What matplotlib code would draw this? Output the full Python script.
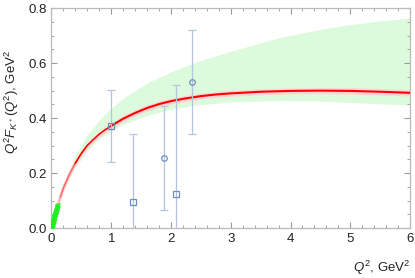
import numpy as np
import matplotlib.pyplot as plt

plt.rcParams['font.family'] = ['Liberation Sans', 'DejaVu Sans']
plt.rcParams['mathtext.fontset'] = 'custom'
plt.rcParams['mathtext.rm'] = 'Liberation Sans'
plt.rcParams['mathtext.it'] = 'Liberation Sans:italic'

# model curve (red) and its narrow error band
q2 = [0.0, 0.05, 0.1, 0.15, 0.2, 0.3, 0.4, 0.5, 0.6, 0.7, 0.8, 0.9, 1.0, 1.2, 1.4,
      1.6, 1.8, 2.0, 2.25, 2.5, 2.75, 3.0, 3.5, 4.0, 4.5, 5.0, 5.5, 6.0]
ff = [0.0, 0.043, 0.082, 0.114, 0.146, 0.196, 0.237, 0.272, 0.301, 0.322, 0.342, 0.358,
      0.372, 0.398, 0.419, 0.437, 0.451, 0.462, 0.472, 0.480, 0.486, 0.490, 0.496,
      0.499, 0.500, 0.499, 0.496, 0.492]
ff_err = [0.0, 0.008, 0.01, 0.011, 0.011, 0.011, 0.011, 0.011, 0.011, 0.011, 0.011, 0.011,
          0.011, 0.011, 0.011, 0.011, 0.011, 0.011, 0.011, 0.011, 0.011, 0.011, 0.011,
          0.011, 0.011, 0.012, 0.012, 0.012]

# wide green band
band_q2 = [0.0, 0.1, 0.2, 0.4, 0.6, 0.8, 1.0, 1.25, 1.65, 2.0, 2.4, 3.0, 3.82, 4.5, 5.0, 5.5, 6.0]
band_hi = [0.0, 0.088, 0.16, 0.262, 0.34, 0.392, 0.437, 0.48, 0.533, 0.568, 0.603, 0.643,
           0.693, 0.722, 0.740, 0.753, 0.764]
band_lo = [0.0, 0.078, 0.138, 0.222, 0.282, 0.325, 0.355, 0.382, 0.413, 0.432, 0.447, 0.459,
           0.464, 0.462, 0.457, 0.452, 0.448]

# experimental points
sq_q2 = [1.0, 1.36, 2.08]
sq_f = [0.373, 0.096, 0.126]
sq_err = [0.131, 0.246, 0.393]
ci_q2 = [1.89, 2.35]
ci_f = [0.255, 0.531]
ci_err = [0.188, 0.188]

# lattice points near origin
gq = [0.005, 0.01, 0.012, 0.018, 0.02, 0.025, 0.028, 0.03, 0.035, 0.038, 0.04, 0.045, 0.048,
      0.05, 0.055, 0.058, 0.06, 0.065, 0.07, 0.072, 0.075, 0.08, 0.085, 0.09, 0.095, 0.1, 0.103]
gf = [0.003, 0.008, 0.015, 0.012, 0.02, 0.022, 0.03, 0.026, 0.033, 0.028, 0.04, 0.038, 0.045,
      0.042, 0.05, 0.047, 0.055, 0.052, 0.06, 0.064, 0.058, 0.068, 0.07, 0.075, 0.078, 0.082, 0.086]

fig = plt.figure(figsize=(4.15, 2.78), dpi=100)
ax = fig.add_axes([0.124, 0.179, 0.864, 0.792])

ax.fill_between(band_q2, band_lo, band_hi, color='#dcfadc', lw=0, zorder=1)
q = np.array(q2)
f = np.array(ff)
e = np.array(ff_err)
ax.fill_between(q, f - e, f + e, color='#ffd4d4', lw=0, zorder=2)
# the curve fades out towards the origin
ax.plot(q2[1:7], ff[1:7], color='#ffb8b8', lw=1.8, zorder=3)
ax.plot(q2[3:9], ff[3:9], color='#ff6060', lw=0.9, zorder=4)
ax.plot(q2[6:13], ff[6:13], color='red', lw=1.1, zorder=4)
ax.plot(q2[12:], ff[12:], color='red', lw=1.5, zorder=4)

ecol = '#b4c4de'
mcol = '#6d8ec6'
ax.errorbar(sq_q2, sq_f, yerr=sq_err, fmt='s', ms=4, mfc='none', mec=mcol, mew=0.9,
            ecolor=ecol, elinewidth=0.9, capsize=3, capthick=0.9, zorder=5)
ax.errorbar(ci_q2, ci_f, yerr=ci_err, fmt='o', ms=4, mfc='none', mec=mcol, mew=0.9,
            ecolor=ecol, elinewidth=0.9, capsize=3, capthick=0.9, zorder=5)

ax.plot(gq, gf, 'x', color='#22ee22', ms=3, mew=1, zorder=6)

ax.set_xlim(0, 6)
ax.set_ylim(0, 0.8)
ax.set_xticks([0, 1, 2, 3, 4, 5, 6])
ax.set_yticks([0.0, 0.2, 0.4, 0.6, 0.8])
ax.set_xticks(np.arange(0, 6.01, 0.2), minor=True)
ax.set_yticks(np.arange(0, 0.801, 0.05), minor=True)
ax.set_yticklabels(['0.0', '0.2', '0.4', '0.6', '0.8'])
ax.tick_params(which='both', direction='in', top=True, right=True, color='#999999',
               labelsize=9.5, labelcolor='#222222')
ax.tick_params(which='major', length=4, width=0.8)
ax.tick_params(which='minor', length=2, width=0.6)
ax.tick_params(axis='both', which='major', labeltop=False, labelright=False)
for s in ax.spines.values():
    s.set_color('#bbbbbb')
    s.set_linewidth(0.9)

ax.set_xlabel(r'$Q^2$, GeV$^2$', fontsize=9.5, color='#222222', loc='right')
ax.xaxis.set_label_coords(1.0, -0.14)
ax.set_ylabel(r'$Q^2F_{K^+}(Q^2)$, GeV$^2$', fontsize=9.5, color='#222222')
ax.yaxis.set_label_coords(-0.085, 0.576)

fig.savefig('out.png', dpi=100)
